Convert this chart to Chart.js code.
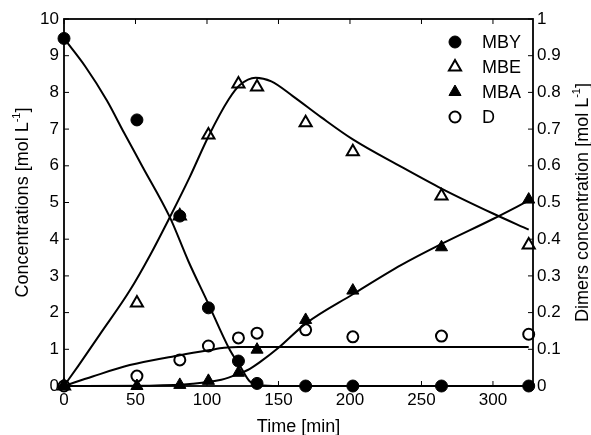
<!DOCTYPE html>
<html><head><meta charset="utf-8">
<script src="https://cdn.jsdelivr.net/npm/chart.js@4/dist/chart.umd.min.js"></script>
<style>html,body{margin:0;padding:0;background:#fff}#wrap{width:591px;height:435px;position:relative}</style>
</head><body><div id="wrap"><canvas id="c"></canvas></div>
<script>
// ---- measured data ----
const times = [0, 51, 81, 101, 122, 135, 169, 202, 264, 325];
const mbyPts = [9.47, 7.25, 4.63, 2.13, 0.68, 0.07, 0, 0, 0, 0];
const mbePts = [0, 2.26, 4.63, 6.84, 8.23, 8.15, 7.17, 6.38, 5.18, 3.84];
const mbaPts = [0, 0, 0.03, 0.14, 0.36, 0.99, 1.8, 2.6, 3.78, 5.08];
const dPts   = [0, 0.027, 0.071, 0.109, 0.131, 0.144, 0.153, 0.134, 0.136, 0.141];

// model fits
const mbyFitT = [0, 15, 30, 42, 55, 74, 87, 100, 116, 123, 130, 137, 150, 325];
const mbyFit  = [9.47, 8.7, 7.78, 6.9, 5.97, 4.6, 3.4, 2.32, 0.98, 0.55, 0.12, 0.03, 0, 0];
const mbeFitT = [0, 10, 25, 46, 60, 74, 88, 101, 115, 123, 134, 145, 160, 180, 202, 236, 264, 300, 325];
const mbeFit  = [0, 0.55, 1.4, 2.6, 3.55, 4.6, 5.7, 6.8, 7.8, 8.2, 8.4, 8.3, 7.9, 7.32, 6.72, 5.97, 5.38, 4.7, 4.26];
const mbaFitT = [0, 60, 90, 110, 122, 130, 137, 150, 169, 202, 236, 264, 300, 325];
const mbaFit  = [0, 0.01, 0.06, 0.17, 0.33, 0.47, 0.65, 1.04, 1.7, 2.5, 3.3, 3.87, 4.55, 5.05];
const dFitT   = [0, 20, 46, 81, 102, 112, 122, 325];
const dFit    = [0, 0.026, 0.057, 0.084, 0.098, 0.104, 0.106, 0.106];

const xTicks  = [0, 50, 100, 150, 200, 250, 300];
const yTicks  = [0, 1, 2, 3, 4, 5, 6, 7, 8, 9, 10];
const y2Ticks = [0, 0.1, 0.2, 0.3, 0.4, 0.5, 0.6, 0.7, 0.8, 0.9, 1];

const legendNames = ['MBY', 'MBE', 'MBA', 'D'];

const pts = (xs, ys) => xs.map((x, i) => ({x, y: ys[i]}));
const FONT = 'Liberation Sans, Arial, sans-serif';

const markerDefs = [
  {style: 'circle',   radius: 6,   fill: '#000', border: 1},
  {style: 'triangle', radius: 7,   fill: 'rgba(0,0,0,0)', border: 2},
  {style: 'triangle', radius: 7,   fill: '#000', border: 1},
  {style: 'circle',   radius: 5.5, fill: 'rgba(0,0,0,0)', border: 2}
];
const ptSeries = [mbyPts, mbePts, mbaPts, dPts];

const datasets = [];
[[mbyFitT, mbyFit, 'y'], [mbeFitT, mbeFit, 'y'], [mbaFitT, mbaFit, 'y'], [dFitT, dFit, 'y2']].forEach(([t, v, ax]) => {
  datasets.push({data: pts(t, v), yAxisID: ax, showLine: true, pointRadius: 0, borderColor: '#000',
    borderWidth: 2, cubicInterpolationMode: 'monotone', fill: false, clip: false});
});
ptSeries.forEach((vals, i) => {
  const m = markerDefs[i];
  datasets.push({label: legendNames[i], data: pts(times, vals), yAxisID: i === 3 ? 'y2' : 'y',
    pointStyle: m.style, pointRadius: m.radius, pointBackgroundColor: m.fill, pointBorderColor: '#000',
    pointBorderWidth: m.border, showLine: false, clip: false});
});

function drawMarker(ctx, m, x, y) {
  ctx.save();
  ctx.fillStyle = m.fill; ctx.strokeStyle = '#000'; ctx.lineWidth = m.border;
  ctx.beginPath();
  if (m.style === 'circle') {
    ctx.arc(x, y, m.radius, 0, Math.PI * 2);
  } else {
    let rad = 0;
    for (let k = 0; k < 3; k++) {
      const px = x + Math.sin(rad) * m.radius, py = y - Math.cos(rad) * m.radius;
      k === 0 ? ctx.moveTo(px, py) : ctx.lineTo(px, py);
      rad += Math.PI * 2 / 3;
    }
    ctx.closePath();
  }
  ctx.fill(); ctx.stroke();
  ctx.restore();
}

function drawSupTitle(ctx, main, sup, tail, size) {
  ctx.font = size + 'px ' + FONT;
  const w1 = ctx.measureText(main).width;
  ctx.font = Math.round(size * 0.62) + 'px ' + FONT;
  const w2 = ctx.measureText(sup).width;
  ctx.font = size + 'px ' + FONT;
  const w3 = ctx.measureText(tail).width;
  const total = w1 + w2 + w3;
  let x = -total / 2;
  ctx.textAlign = 'left'; ctx.textBaseline = 'alphabetic';
  ctx.fillText(main, x, 0); x += w1;
  ctx.font = Math.round(size * 0.62) + 'px ' + FONT;
  ctx.fillText(sup, x, -size * 0.42); x += w2;
  ctx.font = size + 'px ' + FONT;
  ctx.fillText(tail, x, 0);
}

const decor = {
  id: 'decor',
  afterDraw(chart) {
    const {ctx, chartArea: a, scales} = chart;
    ctx.save();
    ctx.strokeStyle = '#000';
    ctx.lineWidth = 1.8;
    ctx.strokeRect(a.left, a.top, a.right - a.left, a.bottom - a.top);
    ctx.lineWidth = 1;
    const ln = (x1, y1, x2, y2) => { ctx.beginPath(); ctx.moveTo(x1, y1); ctx.lineTo(x2, y2); ctx.stroke(); };
    const TL = 5;
    xTicks.forEach(v => { const p = scales.x.getPixelForValue(v); ln(p, a.bottom, p, a.bottom - TL); ln(p, a.top, p, a.top + TL); });
    yTicks.forEach(v => { const p = scales.y.getPixelForValue(v); ln(a.left, p, a.left + TL, p); });
    y2Ticks.forEach(v => { const p = scales.y2.getPixelForValue(v); ln(a.right, p, a.right - TL, p); });

    ctx.fillStyle = '#000';
    ctx.font = '18px ' + FONT; ctx.textAlign = 'center'; ctx.textBaseline = 'alphabetic';
    ctx.fillText('Time [min]', (a.left + a.right) / 2, 432);
    ctx.save(); ctx.translate(28, (a.top + a.bottom) / 2); ctx.rotate(-Math.PI / 2);
    drawSupTitle(ctx, 'Concentrations [mol L', '-1', ']', 18); ctx.restore();
    ctx.save(); ctx.translate(588, (a.top + a.bottom) / 2); ctx.rotate(-Math.PI / 2);
    drawSupTitle(ctx, 'Dimers concentration [mol L', '-1', ']', 18); ctx.restore();

    const lx = a.right - 78, tx = a.right - 51;
    legendNames.forEach((name, i) => {
      const ly = a.top + 23 + i * 25;
      drawMarker(ctx, markerDefs[i], lx, ly);
      ctx.fillStyle = '#000'; ctx.font = '18px ' + FONT; ctx.textAlign = 'left'; ctx.textBaseline = 'middle';
      ctx.fillText(name, tx, ly + 1);
    });
    ctx.restore();
  }
};

const tickFont = {family: FONT, size: 17};
new Chart(document.getElementById('c'), {
  type: 'scatter',
  data: {datasets},
  options: {
    responsive: true, maintainAspectRatio: false, animation: false,
    layout: {padding: {top: 19, left: 0, right: 0, bottom: 0}},
    plugins: {legend: {display: false}, tooltip: {enabled: false}},
    scales: {
      x: {type: 'linear', position: 'bottom', min: 0, max: 328,
        grid: {display: false, drawTicks: false}, border: {display: false},
        ticks: {color: '#000', font: tickFont, padding: 4, maxRotation: 0},
        afterBuildTicks: s => { s.ticks = xTicks.map(v => ({value: v})); },
        afterFit: s => { s.height = 49; }},
      y: {type: 'linear', position: 'left', min: 0, max: 10,
        grid: {display: false, drawTicks: false}, border: {display: false},
        ticks: {color: '#000', font: tickFont, padding: 5},
        afterBuildTicks: s => { s.ticks = yTicks.map(v => ({value: v})); },
        afterFit: s => { s.width = 64; }},
      y2: {type: 'linear', position: 'right', min: 0, max: 1,
        grid: {display: false, drawTicks: false}, border: {display: false},
        ticks: {color: '#000', font: tickFont, padding: 4, callback: v => String(Math.round(v * 10) / 10)},
        afterBuildTicks: s => { s.ticks = y2Ticks.map(v => ({value: v})); },
        afterFit: s => { s.width = 58; }}
    }
  },
  plugins: [decor]
});
</script>
</body></html>
